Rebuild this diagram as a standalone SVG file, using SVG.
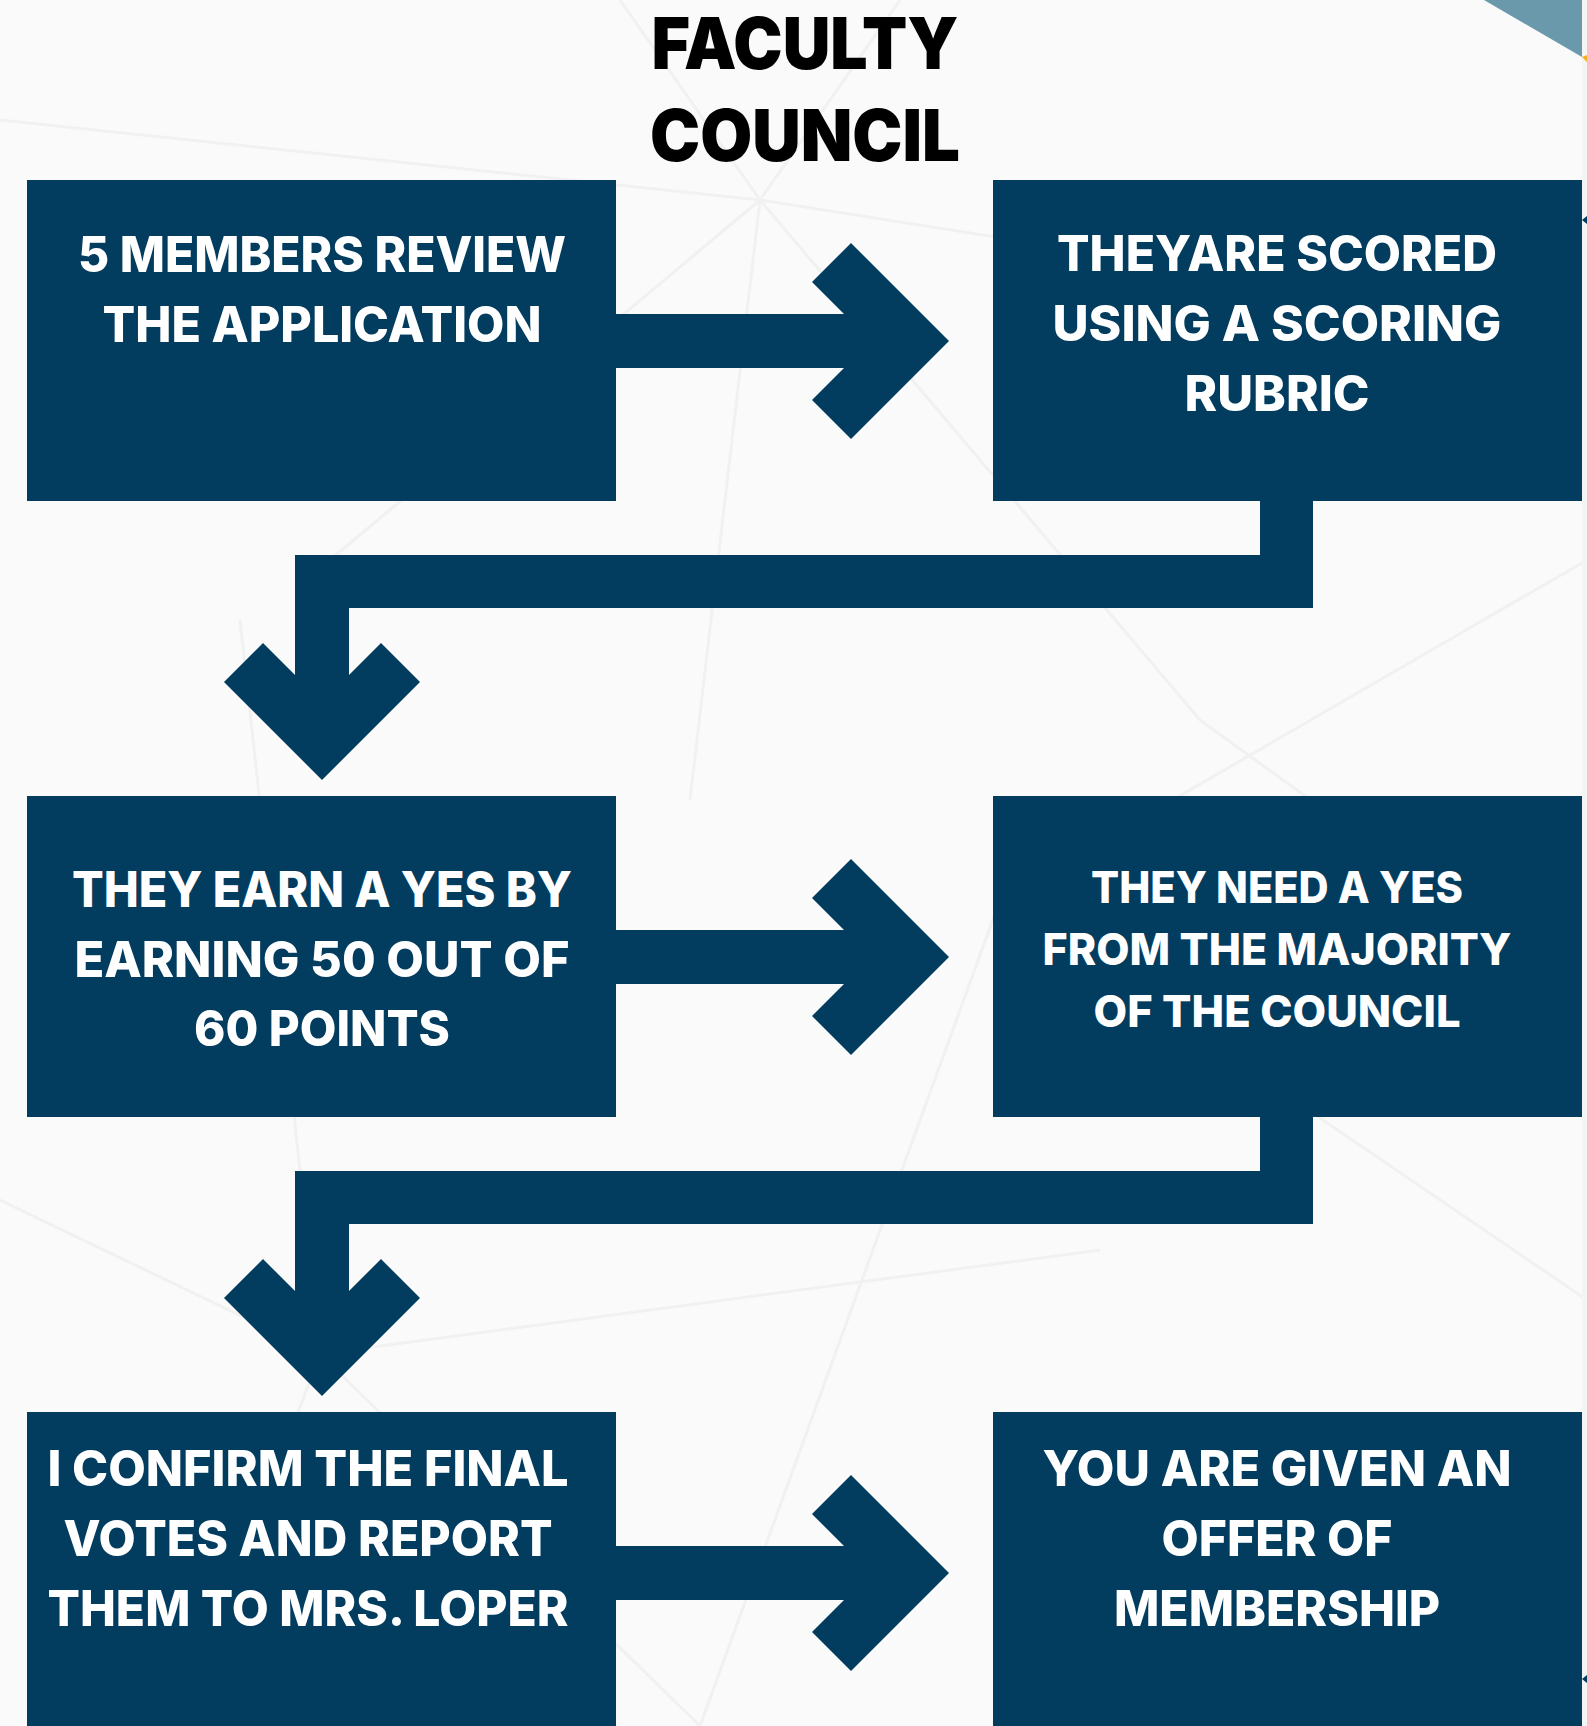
<svg xmlns="http://www.w3.org/2000/svg" xmlns:xlink="http://www.w3.org/1999/xlink" width="1587" height="1726" viewBox="0 0 1587 1726">
<style>
.box{fill:#023c5e}
.conn{fill:#023c5e}
.t{font-family:Inter,"Noto Sans","Liberation Sans",sans-serif;font-weight:800;fill:#ffffff;text-anchor:middle}
.t1{font-size:49px}
.t2{font-size:44px}
.title{font-family:Inter,"Noto Sans","Liberation Sans",sans-serif;font-weight:900;font-size:71px;fill:#000000;text-anchor:middle}
.bg{stroke:#f1f1f1;stroke-width:3;fill:none}
</style>
<defs>
<path id="rarrow" d="M616,-27 L844,-27 L812,-59 L851,-98 L949,0 L851,98 L812,59 L844,27 L616,27 Z"/>
<path id="elbow" d="M1260,501 L1313,501 L1313,608 L349,608 L349,675 L381,643 L420,682 L322,780 L224,682 L263,643 L295,675 L295,555 L1260,555 Z"/>
</defs>
<rect x="0" y="0" width="1587" height="1726" fill="#fafafa"/>
<g id="background">
<path class="bg" d="M760,200 L620,0 M760,200 L900,0 M760,200 L0,120 M760,200 L1587,330 M760,200 L690,800 M760,200 L1200,720 M760,200 L330,560"/>
<path class="bg" d="M320,1354 L0,1200 M320,1354 L700,1726 M320,1354 L1100,1250 M320,1354 L180,1726 M320,1354 L240,620"/>
<path class="bg" d="M1000,900 L1587,560 M1000,900 L1587,1300 M1000,900 L700,1726 M1200,720 L1587,1000"/>
<rect x="1582" y="0" width="5" height="1726" fill="#f4f4f4" stroke="none"/>
</g>
<polygon id="corner" points="1484,0 1582,57 1582,0" fill="#6a99ab"/>
<polygon points="1582,57 1587,55 1587,62" fill="#f2b01e"/>
<polygon points="1582,220 1587,216 1587,224" fill="#023c5e"/>
<polygon points="1582,1679 1587,1675 1587,1683" fill="#023c5e"/>
<g id="title">
<text class="title" x="805" y="69" textLength="307" lengthAdjust="spacingAndGlyphs">FACULTY</text>
<text class="title" x="805" y="161" textLength="310" lengthAdjust="spacingAndGlyphs">COUNCIL</text>
</g>
<g id="connectors">
<use xlink:href="#rarrow" class="conn" transform="translate(0,341)"/>
<use xlink:href="#rarrow" class="conn" transform="translate(0,957)"/>
<use xlink:href="#rarrow" class="conn" transform="translate(0,1573)"/>
<use xlink:href="#elbow" class="conn"/>
<use xlink:href="#elbow" class="conn" transform="translate(0,616)"/>
</g>
<g id="node1">
<rect class="box" x="27" y="180" width="589" height="321"/>
<text class="t t1" x="322" y="272" textLength="488" lengthAdjust="spacingAndGlyphs">5 MEMBERS REVIEW</text>
<text class="t t1" x="322" y="342" textLength="439" lengthAdjust="spacingAndGlyphs">THE APPLICATION</text>
</g>
<g id="node2">
<rect class="box" x="993" y="180" width="589" height="321"/>
<text class="t t1" x="1277" y="271" textLength="440" lengthAdjust="spacingAndGlyphs">THEYARE SCORED</text>
<text class="t t1" x="1277" y="341" textLength="449" lengthAdjust="spacingAndGlyphs">USING A SCORING</text>
<text class="t t1" x="1277" y="411" textLength="185" lengthAdjust="spacingAndGlyphs">RUBRIC</text>
</g>
<g id="node3">
<rect class="box" x="27" y="796" width="589" height="321"/>
<text class="t t1" x="322" y="907" textLength="500" lengthAdjust="spacingAndGlyphs">THEY EARN A YES BY</text>
<text class="t t1" x="322" y="977" textLength="495" lengthAdjust="spacingAndGlyphs">EARNING 50 OUT OF</text>
<text class="t t1" x="322" y="1046" textLength="256" lengthAdjust="spacingAndGlyphs">60 POINTS</text>
</g>
<g id="node4">
<rect class="box" x="993" y="796" width="589" height="321"/>
<text class="t t2" x="1277" y="903" textLength="372" lengthAdjust="spacingAndGlyphs">THEY NEED A YES</text>
<text class="t t2" x="1277" y="965" textLength="469" lengthAdjust="spacingAndGlyphs">FROM THE MAJORITY</text>
<text class="t t2" x="1277" y="1027" textLength="367" lengthAdjust="spacingAndGlyphs">OF THE COUNCIL</text>
</g>
<g id="node5">
<rect class="box" x="27" y="1412" width="589" height="314"/>
<text class="t t1" x="308" y="1486" textLength="521" lengthAdjust="spacingAndGlyphs">I CONFIRM THE FINAL</text>
<text class="t t1" x="308" y="1556" textLength="489" lengthAdjust="spacingAndGlyphs">VOTES AND REPORT</text>
<text class="t t1" x="308" y="1626" textLength="521" lengthAdjust="spacingAndGlyphs">THEM TO MRS. LOPER</text>
</g>
<g id="node6">
<rect class="box" x="993" y="1412" width="589" height="314"/>
<text class="t t1" x="1277" y="1486" textLength="469" lengthAdjust="spacingAndGlyphs">YOU ARE GIVEN AN</text>
<text class="t t1" x="1277" y="1556" textLength="231" lengthAdjust="spacingAndGlyphs">OFFER OF</text>
<text class="t t1" x="1277" y="1626" textLength="326" lengthAdjust="spacingAndGlyphs">MEMBERSHIP</text>
</g>
</svg>
